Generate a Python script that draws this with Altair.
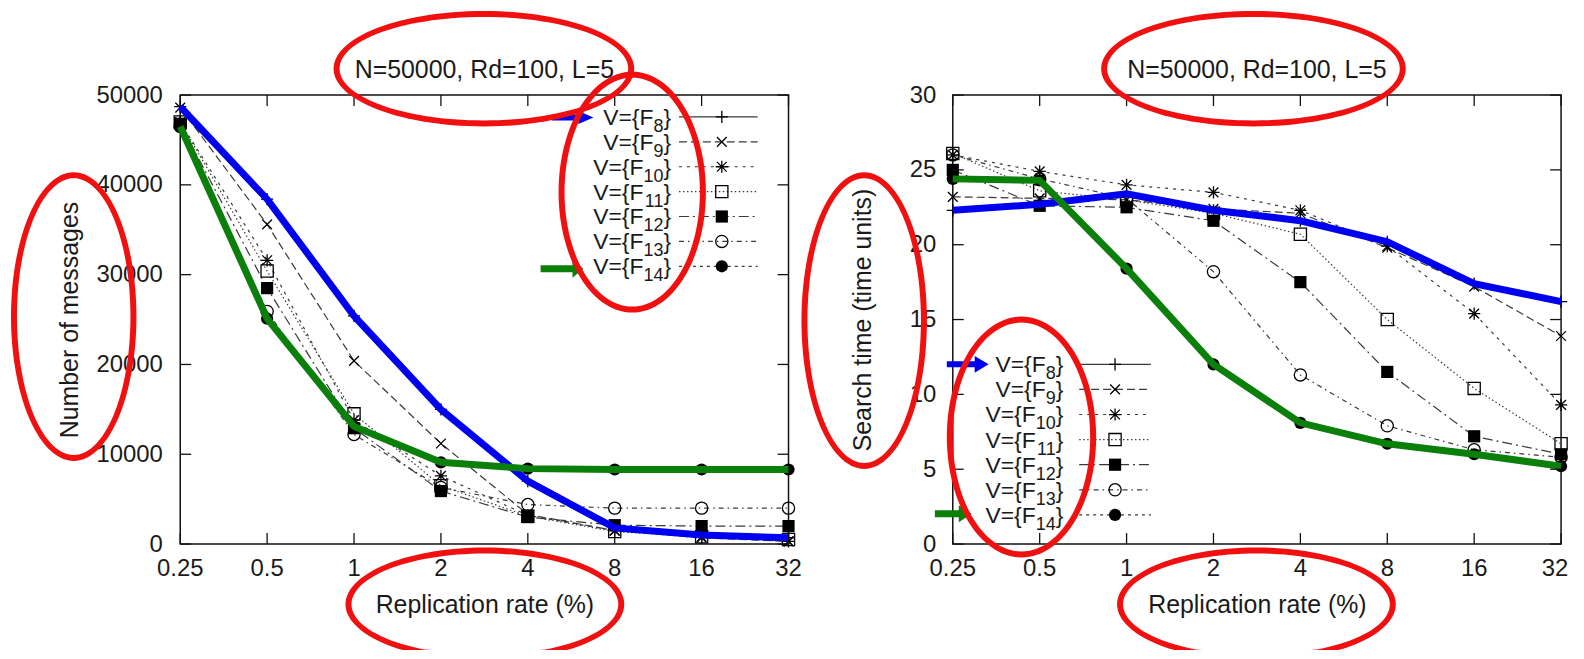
import math
import altair as alt
import pandas as pd

# ---------------- data ----------------
rates = [0.25, 0.5, 1, 2, 4, 8, 16, 32]
rate_labels = ["0.25", "0.5", "1", "2", "4", "8", "16", "32"]
series = ["F8", "F9", "F10", "F11", "F12", "F13", "F14"]
subscripts = ["8", "9", "10", "11", "12", "13", "14"]

msg_F8 = [48700, 38400, 25400, 15000, 7000, 1800, 1000, 700]
msg_F9 = [48600, 35600, 20400, 11200, 3300, 1500, 700, 300]
msg_F10 = [47000, 31600, 13800, 7600, 3200, 1500, 800, 300]
msg_F11 = [47000, 30400, 14500, 6500, 3100, 1400, 800, 500]
msg_F12 = [46800, 28500, 12900, 5900, 3000, 2100, 2000, 2000]
msg_F13 = [46500, 25900, 12200, 6300, 4400, 4000, 4000, 4000]
msg_F14 = [46500, 25100, 13100, 9100, 8400, 8300, 8300, 8300]

time_F8 = [22.3, 22.7, 23.4, 22.3, 21.6, 20.2, 17.4, 16.2]
time_F9 = [23.2, 23.1, 23.0, 22.4, 22.1, 19.8, 17.2, 13.9]
time_F10 = [26.0, 24.9, 24.0, 23.5, 22.3, 19.9, 15.4, 9.3]
time_F11 = [26.1, 23.6, 23.0, 22.1, 20.7, 15.0, 10.4, 6.7]
time_F12 = [25.0, 22.6, 22.5, 21.6, 17.5, 11.5, 7.2, 6.0]
time_F13 = [26.0, 24.4, 23.1, 18.2, 11.3, 7.9, 6.3, 5.8]
time_F14 = [24.4, 24.3, 18.4, 12.0, 8.1, 6.7, 6.0, 5.2]

title_text = "N=50000, Rd=100, L=5"
x_title = "Replication rate (%)"
y_title_left = "Number of messages"
y_title_right = "Search time (time units)"
y_ticks_left = [0, 10000, 20000, 30000, 40000, 50000]
y_ticks_right = [0, 5, 10, 15, 20, 25, 30]

# ---------------- styles ----------------
FONT = "Liberation Sans, Arial, Helvetica, sans-serif"
TXT = "#1a1a1a"
BLUE = "#0000f0"
GREEN = "#0a7f0a"
RED = "#f01010"
LINE = "#3a3a3a"
W, H = 611, 451
BOTTOM_LIMIT = 557.5  # lowest y (relative to plot top) that fits in the window

PLUS = "M -1 0 L 1 0 M 0 -1 L 0 1"
CROSS = "M -0.8 -0.8 L 0.8 0.8 M -0.8 0.8 L 0.8 -0.8"
STAR = PLUS + " " + CROSS
dashes = [[1, 0], [8, 4], [3, 5], [1.5, 2.5], [10, 4, 2, 4], [5, 4, 1.5, 4], [3, 4]]
shape_of = {"F8": PLUS, "F9": CROSS, "F10": STAR, "F11": "square",
            "F12": "square", "F13": "circle", "F14": "circle"}
filled_of = {"F8": False, "F9": False, "F10": False, "F11": False,
             "F12": True, "F13": False, "F14": True}
open_series = [s for s in series if not filled_of[s]]
filled_series = [s for s in series if filled_of[s]]
all_shapes = [shape_of[s] for s in series]


def one():
    return pd.DataFrame({"k": [0]})


def ring_path(a, b, sw, ymax):
    """Filled elliptical ring (no stroke, so bounds are exact); y clamped at ymax."""
    ao, bo = a + sw / 2, b + sw / 2
    ai, bi = a - sw / 2, b - sw / 2
    m = max(ao, bo)
    lim = ymax / m
    n = 120

    def pts(ea, eb, rev):
        out = []
        rng = range(n, -1, -1) if rev else range(n + 1)
        for i in rng:
            t = 2 * math.pi * i / n
            x = ea * math.cos(t) / m
            y = min(eb * math.sin(t) / m, lim)
            out.append(f"{x:.4f} {y:.4f}")
        return "M " + " L ".join(out) + " Z"

    return pts(ao, bo, False) + " " + pts(ai, bi, True), (2 * m) ** 2


def arrow_path(L, h, Hh, t):
    a = L / 2.0
    hb = 1 - h / a
    p = (f"M -1 {-t/a} L {hb} {-t/a} L {hb} {-Hh/a} L 1 0 L {hb} {Hh/a} "
         f"L {hb} {t/a} L -1 {t/a} Z")
    return p, L * L


def ellipse(cx, cy, a, b):
    p, s = ring_path(a, b, 6, BOTTOM_LIMIT - cy)
    return alt.Chart(one()).mark_point(
        shape=p, size=s, filled=True, color=RED, strokeWidth=0, opacity=1
    ).encode(x=alt.value(cx), y=alt.value(cy))


def arrow(cx, cy, L, h, Hh, t, color):
    p, s = arrow_path(L, h, Hh, t)
    return alt.Chart(one()).mark_point(
        shape=p, size=s, filled=True, color=color, opacity=1, strokeWidth=0
    ).encode(x=alt.value(cx), y=alt.value(cy))


def legend(x_end, y0, dy, line_x1, line_x2, mark_x):
    layers = []
    for i, (s, sub) in enumerate(zip(series, subscripts)):
        yr = y0 + dy * i
        w_brace = 7.7
        w_sub = 10.0 * len(sub)
        layers.append(alt.Chart(one()).mark_text(
            text="}", align="right", baseline="alphabetic", fontSize=23,
            font=FONT, color=TXT).encode(x=alt.value(x_end), y=alt.value(yr + 8)))
        layers.append(alt.Chart(one()).mark_text(
            text=sub, align="right", baseline="alphabetic", fontSize=18,
            font=FONT, color=TXT).encode(x=alt.value(x_end - w_brace),
                                         y=alt.value(yr + 15)))
        layers.append(alt.Chart(one()).mark_text(
            text="V={F", align="right", baseline="alphabetic", fontSize=23,
            font=FONT, color=TXT).encode(x=alt.value(x_end - w_brace - w_sub),
                                         y=alt.value(yr + 8)))
        layers.append(alt.Chart(one()).mark_rule(
            color=LINE, strokeWidth=1.2, strokeDash=dashes[i]).encode(
            x=alt.value(line_x1), x2=alt.value(line_x2), y=alt.value(yr)))
        layers.append(alt.Chart(one()).mark_point(
            shape=shape_of[s], filled=filled_of[s], color="black", size=150,
            strokeWidth=1.3, opacity=1).encode(x=alt.value(mark_x), y=alt.value(yr)))
    return layers


def panel(vals, ymax, yticks, ytitle, ytitle_x, ylabel_pad, yfmt,
          ellipses, arrows, leg, last_label_dx):
    long = pd.DataFrame([{"rate": r, "value": v, "series": s}
                         for s, vv in zip(series, vals) for r, v in zip(rates, vv)])
    xs = alt.Scale(type="log", base=2, domain=[0.25, 32], nice=False)
    ys = alt.Scale(domain=[0, ymax], nice=False, zero=True)
    xaxis = alt.Axis(values=rates, labels=False, title=x_title, grid=False,
                     ticks=False, domain=False, titleFont=FONT, titleFontSize=25,
                     titleFontWeight="normal", titleColor=TXT,
                     titleX=W / 2, titleY=69, titleBaseline="alphabetic",
                     titleAlign="center")
    yaxis = alt.Axis(values=yticks, format=yfmt, title=ytitle, grid=False,
                     ticks=False, domain=False, labelFont=FONT, labelFontSize=24,
                     labelColor=TXT, labelPadding=ylabel_pad, labelFlush=False,
                     labelOverlap=False, titleFont=FONT, titleFontSize=25,
                     titleFontWeight="normal", titleColor=TXT,
                     titleX=ytitle_x, titleY=H / 2, titleAngle=270,
                     titleBaseline="alphabetic", titleAlign="center")
    X = alt.X("rate:Q", scale=xs, axis=xaxis)
    Y = alt.Y("value:Q", scale=ys, axis=yaxis)
    shape_scale = alt.Scale(domain=series, range=all_shapes)

    lines = alt.Chart(long).mark_line(color=LINE, strokeWidth=1.2).encode(
        X, Y,
        strokeDash=alt.StrokeDash("series:N", scale=alt.Scale(domain=series, range=dashes),
                                  legend=None))
    open_pts = alt.Chart(long).transform_filter(
        alt.FieldOneOfPredicate(field="series", oneOf=open_series)
    ).mark_point(filled=False, color="black", size=150, strokeWidth=1.3, opacity=1).encode(
        X, Y, shape=alt.Shape("series:N", scale=shape_scale, legend=None))
    filled_pts = alt.Chart(long).transform_filter(
        alt.FieldOneOfPredicate(field="series", oneOf=filled_series)
    ).mark_point(filled=True, color="black", size=150, opacity=1).encode(
        X, Y, shape=alt.Shape("series:N", scale=shape_scale, legend=None))
    hl_blue = alt.Chart(long).transform_filter(alt.datum.series == "F8").mark_line(
        color=BLUE, strokeWidth=7).encode(X, Y)
    hl_green = alt.Chart(long).transform_filter(alt.datum.series == "F14").mark_line(
        color=GREEN, strokeWidth=7).encode(X, Y)

    xt = pd.DataFrame({"rate": rates, "label": rate_labels})
    yt = pd.DataFrame({"value": yticks})
    tick_style = dict(color="#111", strokeWidth=1.3)
    t_bottom = alt.Chart(xt).mark_rule(**tick_style).encode(
        x=X, y=alt.value(H - 11), y2=alt.value(H))
    t_top = alt.Chart(xt).mark_rule(**tick_style).encode(
        x=X, y=alt.value(0), y2=alt.value(11))
    t_left = alt.Chart(yt).mark_rule(**tick_style).encode(
        y=Y, x=alt.value(0), x2=alt.value(11))
    t_right = alt.Chart(yt).mark_rule(**tick_style).encode(
        y=Y, x=alt.value(W - 11), x2=alt.value(W))

    lab_style = dict(font=FONT, fontSize=24, color=TXT, align="center", baseline="top")
    x_labels = alt.Chart(xt).transform_filter(alt.datum.rate < 32).mark_text(
        **lab_style).encode(x=X, y=alt.value(H + 13), text="label:N")
    x_label_last = alt.Chart(xt).transform_filter(alt.datum.rate == 32).mark_text(
        dx=last_label_dx, **lab_style).encode(x=X, y=alt.value(H + 13), text="label:N")

    title = alt.Chart(one()).mark_text(
        text=title_text, font=FONT, fontSize=25, color=TXT, align="center",
        baseline="alphabetic").encode(x=alt.value(W / 2), y=alt.value(-17.5))

    layers = [lines, open_pts, filled_pts, hl_blue, hl_green,
              t_bottom, t_top, t_left, t_right, x_labels, x_label_last, title]
    layers += legend(*leg)
    layers += [arrow(*a) for a in arrows]
    layers += [ellipse(*e) for e in ellipses]

    return alt.layer(*layers).properties(width=W, height=H)


left = panel(
    [msg_F8, msg_F9, msg_F10, msg_F11, msg_F12, msg_F13, msg_F14],
    50000, y_ticks_left, y_title_left, -103.5, 18, "d",
    ellipses=[(305, -26.5, 148, 55), (454, 97.5, 71, 118),
              (-107, 222.5, 60, 142), (306, 511.5, 137, 54)],
    arrows=[(394, 22.5, 42, 15, 6.5, 3, BLUE), (383.5, 174.5, 43, 11, 9, 3.5, GREEN)],
    leg=(493, 22, 25, 501, 580, 544),
    last_label_dx=0,
)

right = panel(
    [time_F8, time_F9, time_F10, time_F11, time_F12, time_F13, time_F14],
    30, y_ticks_right, y_title_right, -83, 17, "d",
    ellipses=[(302, -26.5, 150, 55), (-89, 226.5, 60, 146),
              (69, 343.5, 72, 118), (305, 511.5, 137, 54)],
    arrows=[(15, 270.5, 42, 14, 8.5, 3, BLUE), (0.5, 420.5, 37, 13, 8.5, 3.5, GREEN)],
    leg=(111, 270.5, 25.2, 127, 199, 163),
    last_label_dx=-6,
)

chart = alt.hconcat(left, right, spacing=165, bounds="flush").properties(
    padding={"left": 2, "top": 0, "right": 0, "bottom": 0},
    background="white",
).configure_view(stroke="#111", strokeWidth=1.5)

chart.save("out.html", embed_options={"renderer": "svg", "actions": False})
